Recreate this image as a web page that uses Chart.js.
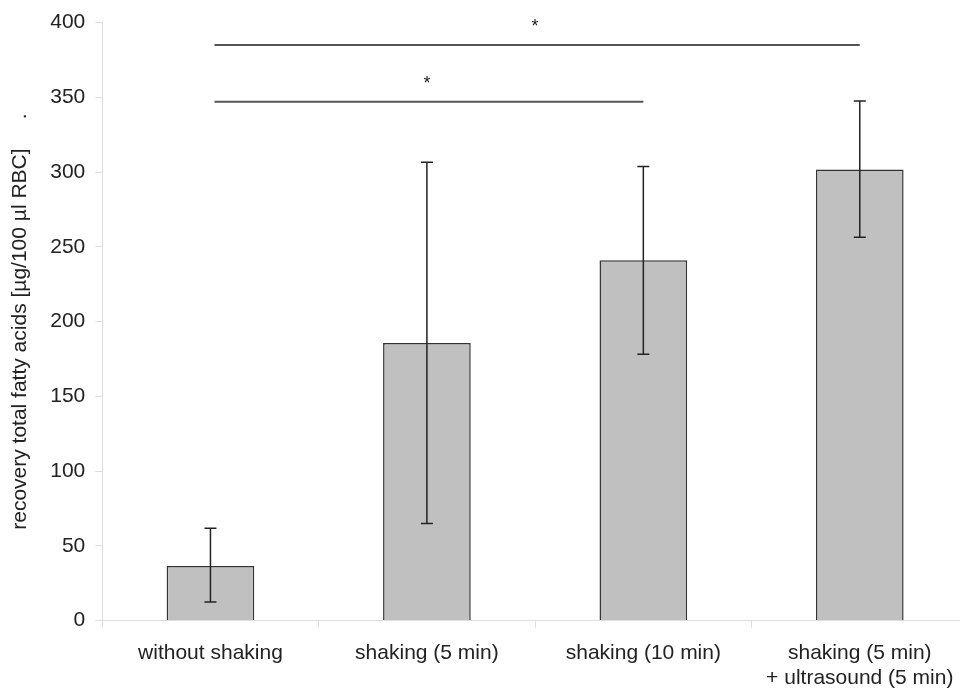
<!DOCTYPE html>
<html>
<head>
<meta charset="utf-8">
<script src="https://cdn.jsdelivr.net/npm/chart.js@4"></script>
<style>
  html, body { margin: 0; padding: 0; background: #fff; overflow: hidden; }
  #wrap { width: 980px; height: 704px; }
</style>
</head>
<body>
<div id="wrap"><canvas id="chart"></canvas></div>
<script>
const categories = [
  'without shaking',
  'shaking (5 min)',
  'shaking (10 min)',
  ['shaking (5 min)', '+ ultrasound (5 min)']
];
const means = [36.6, 185.7, 241, 301.7];
const errLow = [12.4, 65, 178.2, 256.4];
const errHigh = [61.7, 306.6, 303.7, 347.6];
const yTicks = [0, 50, 100, 150, 200, 250, 300, 350, 400];

// significance brackets: from category, to category, line level
const brackets = [
  { from: 0, to: 2, y: 347, star: '*' },
  { from: 0, to: 3, y: 385, star: '*' }
];

const FONT = '"Liberation Sans", Arial, sans-serif';

// error bars and brackets
const extras = {
  id: 'extras',
  afterDatasetsDraw(chart) {
    const ctx = chart.ctx;
    const x = chart.scales.x;
    const y = chart.scales.y;
    ctx.save();
    ctx.strokeStyle = '#222';
    ctx.lineWidth = 1.5;
    means.forEach((m, i) => {
      const px = x.getPixelForValue(i);
      const lo = y.getPixelForValue(errLow[i]);
      const hi = y.getPixelForValue(errHigh[i]);
      ctx.beginPath();
      ctx.moveTo(px, lo);
      ctx.lineTo(px, hi);
      ctx.moveTo(px - 6, lo);
      ctx.lineTo(px + 6, lo);
      ctx.moveTo(px - 6, hi);
      ctx.lineTo(px + 6, hi);
      ctx.stroke();
    });

    ctx.strokeStyle = '#555';
    ctx.lineWidth = 2;
    ctx.fillStyle = '#222';
    ctx.font = '18px ' + FONT;
    ctx.textAlign = 'center';
    ctx.textBaseline = 'middle';
    brackets.forEach(b => {
      const x1 = x.getPixelForValue(b.from) + 4;
      const x2 = x.getPixelForValue(b.to);
      const py = y.getPixelForValue(b.y);
      ctx.beginPath();
      ctx.moveTo(x1, py);
      ctx.lineTo(x2, py);
      ctx.stroke();
      ctx.fillText(b.star, (x.getPixelForValue(b.from) + x2) / 2, py - 18);
    });
    ctx.restore();
  }
};

new Chart(document.getElementById('chart'), {
  type: 'bar',
  data: {
    labels: categories,
    datasets: [{
      data: means,
      backgroundColor: '#c0c0c0',
      borderColor: '#333',
      borderWidth: 1.5,
      barPercentage: 0.405,
      categoryPercentage: 1
    }]
  },
  options: {
    responsive: true,
    maintainAspectRatio: false,
    animation: false,
    layout: { padding: { top: 2, right: 12, left: 8 } },
    plugins: {
      legend: { display: false },
      tooltip: { enabled: false }
    },
    scales: {
      x: {
        grid: {
          drawOnChartArea: false,
          color: '#ddd',
          tickLength: 7
        },
        border: { color: '#ddd' },
        ticks: {
          color: '#222',
          padding: 13,
          maxRotation: 0,
          font: { family: FONT, size: 21, lineHeight: 1.2 }
        }
      },
      y: {
        min: 0,
        max: 400,
        afterBuildTicks(axis) {
          axis.ticks = yTicks.map(v => ({ value: v }));
        },
        grid: {
          drawOnChartArea: false,
          color: '#ddd',
          tickLength: 7
        },
        border: { color: '#ddd' },
        ticks: {
          color: '#222',
          padding: 10,
          font: { family: FONT, size: 21 }
        },
        title: {
          display: true,
          text: 'recovery total fatty acids [µg/100 µl RBC]     .',
          color: '#222',
          padding: { top: 0, bottom: 7 },
          font: { family: FONT, size: 21 }
        }
      }
    }
  },
  plugins: [extras]
});
</script>
</body>
</html>
